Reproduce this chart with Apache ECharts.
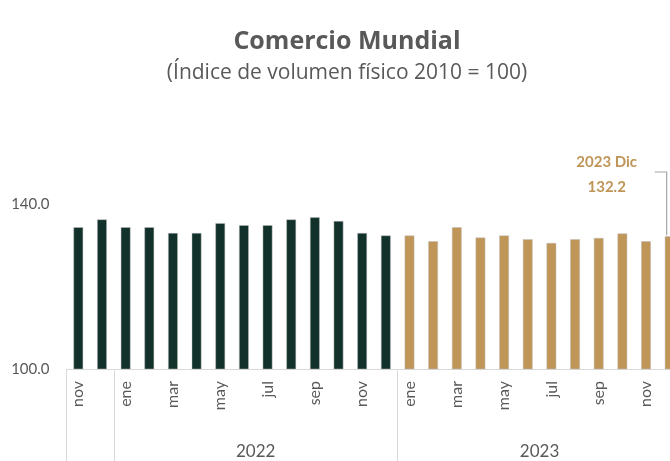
<!DOCTYPE html>
<html>
<head>
<meta charset="utf-8">
<script src="https://cdn.jsdelivr.net/npm/echarts@6/dist/echarts.min.js"></script>
<style>
  html, body { margin: 0; padding: 0; background: #fff; }
  #chart { width: 670px; height: 461px; }
</style>
</head>
<body>
<div id="chart"></div>
<script>
// meses y años de cada barra (nov 2021 - dic 2023)
var meses = ['nov', 'dic',
    'ene', 'feb', 'mar', 'abr', 'may', 'jun', 'jul', 'ago', 'sep', 'oct', 'nov', 'dic',
    'ene', 'feb', 'mar', 'abr', 'may', 'jun', 'jul', 'ago', 'sep', 'oct', 'nov', 'dic'];
var anios = ['2021', '2021',
    '2022', '2022', '2022', '2022', '2022', '2022', '2022', '2022', '2022', '2022', '2022', '2022',
    '2023', '2023', '2023', '2023', '2023', '2023', '2023', '2023', '2023', '2023', '2023', '2023'];
var valores = [134.4, 136.3,
    134.4, 134.4, 133.0, 133.0, 135.4, 134.9, 134.9, 136.3, 136.8, 135.9, 133.0, 132.4,
    132.4, 131.0, 134.4, 131.9, 132.4, 131.5, 130.6, 131.5, 131.8, 132.9, 131.0, 132.2];
var aniosConEtiqueta = ['2022', '2023'];
var yTicks = [100, 140];

var verde = '#12312a';
var dorado = '#bf9558';
var gris = '#595959';
var fuente = 'Lato';
var fuenteTitulo = 'Open Sans';

window.onload = function() {
    var chart = echarts.init(document.getElementById('chart'));

    // índice central de cada año (para la etiqueta del año)
    var centro = {};
    aniosConEtiqueta.forEach(function(a) {
        var first = anios.indexOf(a), last = anios.lastIndexOf(a);
        centro[Math.floor((first + last) / 2)] = a;
    });

    var datos = valores.map(function(v, i) {
        return {
            value: v,
            itemStyle: { color: anios[i] === '2023' ? dorado : verde }
        };
    });

    chart.setOption({
        animation: false,
        textStyle: { fontFamily: fuente },
        title: {
            text: 'Comercio Mundial',
            subtext: '(Índice de volumen físico 2010 = 100)',
            left: 342,
            textAlign: 'center',
            top: 24,
            itemGap: 9,
            textStyle: { fontFamily: fuenteTitulo, fontSize: 25, fontWeight: 'bold', color: gris },
            subtextStyle: { fontFamily: fuenteTitulo, fontSize: 21, color: gris }
        },
        // el área de trazado sigue más allá del borde derecho (la última barra queda cortada)
        grid: { left: 66.5, width: 615, top: 204, bottom: 92, outerBoundsMode: 'none', containLabel: false },
        xAxis: [{
            type: 'category',
            position: 'bottom',
            data: meses,
            axisLine: { show: true, lineStyle: { color: '#d9d9d9', width: 1 } },
            axisTick: { show: false },
            axisLabel: {
                interval: 1,
                rotate: 90,
                margin: 12,
                fontSize: 16,
                color: gris,
                fontFamily: fuente
            }
        }, {
            type: 'category',
            position: 'bottom',
            data: anios,
            axisLine: { show: false },
            axisTick: {
                show: true,
                length: 95,
                interval: function(index) {
                    return index === 0 || anios[index] !== anios[index - 1];
                },
                lineStyle: { color: '#d9d9d9', width: 1 }
            },
            axisLabel: {
                interval: 0,
                margin: 74,
                fontSize: 17,
                color: gris,
                fontFamily: fuente,
                padding: [0, 0, 0, 23.6],
                formatter: function(value, index) {
                    return centro[index] || '';
                }
            }
        }],
        yAxis: {
            type: 'value',
            min: yTicks[0],
            max: yTicks[1],
            interval: yTicks[1] - yTicks[0],
            axisLine: { show: false },
            axisTick: { show: false },
            splitLine: { show: false },
            axisLabel: {
                margin: 17,
                fontSize: 15,
                color: gris,
                fontFamily: fuente,
                formatter: function(v) { return v.toFixed(1); }
            }
        },
        series: [{
            type: 'bar',
            xAxisIndex: 0,
            data: datos,
            barWidth: 10,
            itemStyle: { borderColor: 'rgba(190,190,190,0.6)', borderWidth: 0.8 }
        }]
    });

    // anotación del último dato, ubicada a partir de la escala
    var n = valores.length - 1;
    var p = chart.convertToPixel({ xAxisIndex: 0, yAxisIndex: 0 }, [n, valores[n]]);
    var yLinea = 172;
    chart.setOption({
        graphic: [{
            type: 'polyline',
            silent: true,
            shape: { points: [[p[0] - 15, yLinea], [p[0] - 3, yLinea], [p[0] - 3, p[1] - 1]] },
            style: { stroke: '#a6a6a6', lineWidth: 1.2, fill: null }
        }, {
            type: 'text',
            x: p[0] - 63,
            y: 162,
            style: {
                text: anios[n] + ' Dic',
                fill: dorado,
                font: 'bold 15px ' + fuente,
                align: 'center',
                verticalAlign: 'middle'
            }
        }, {
            type: 'text',
            x: p[0] - 63,
            y: 187,
            style: {
                text: valores[n].toFixed(1),
                fill: dorado,
                font: 'bold 15px ' + fuente,
                align: 'center',
                verticalAlign: 'middle'
            }
        }]
    });
};
</script>
</body>
</html>
